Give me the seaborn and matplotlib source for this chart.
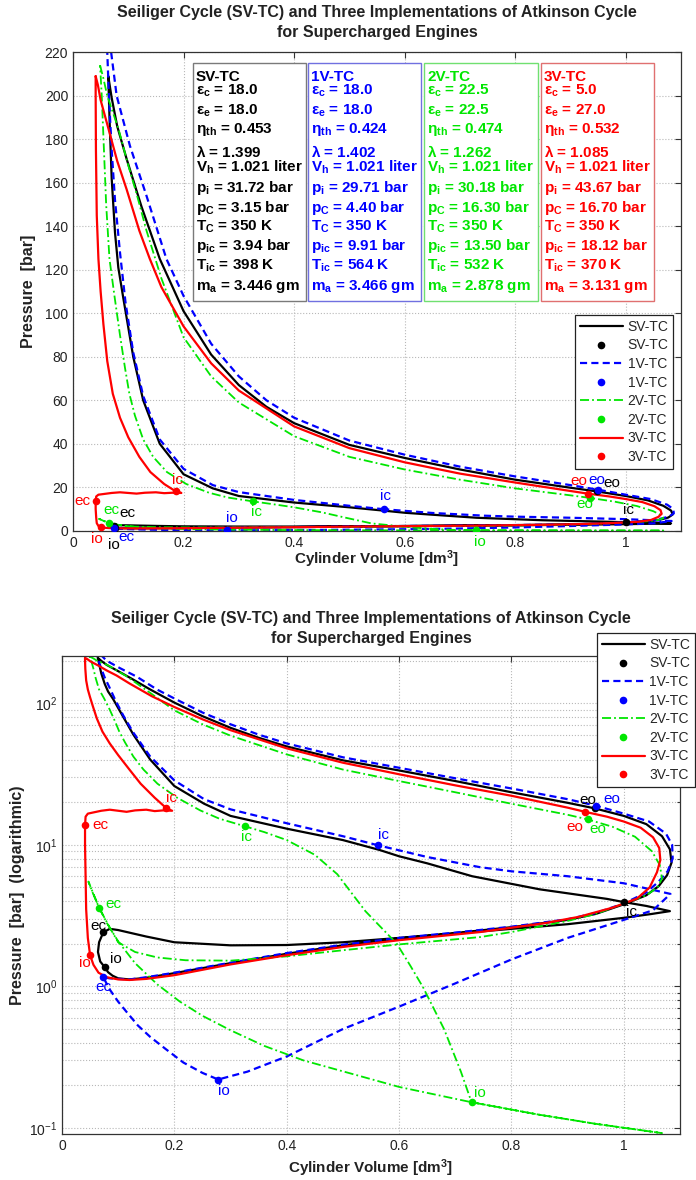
import matplotlib
matplotlib.use("Agg")
import matplotlib.pyplot as plt
import seaborn as sns
import pandas as pd
from matplotlib.lines import Line2D
from matplotlib.patches import Rectangle
from matplotlib.ticker import LogLocator, NullFormatter

# ---------------- data (V in dm^3, p in bar) ----------------
cycle_names = ['SV-TC', '1V-TC', '2V-TC', '3V-TC']

sv_cycle = [(0.0638,209),(0.070,199),(0.080,186),(0.097,171),(0.124,149),(0.157,125),(0.20,101),(0.25,81),
            (0.30,67),(0.35,57),(0.40,49.5),(0.50,39.5),(0.60,33.5),(0.70,28.2),(0.80,23.5),(0.90,19.8),
            (0.948,18.1),(1.00,16.0),(1.04,14.0),(1.068,11.5),(1.082,9.3),(1.085,7.5),(1.077,6.1),(1.062,5.1),
            (1.04,4.4),(1.00,3.8),(0.95,3.25),(0.90,2.95),(0.80,2.62),(0.70,2.38),(0.60,2.18),(0.50,1.95),
            (0.40,1.70),(0.30,1.46),(0.20,1.24),(0.15,1.15),(0.12,1.12),(0.10,1.14),(0.09,1.19),(0.082,1.26),
            (0.0765,1.36),(0.068,1.50),(0.064,1.75),(0.066,2.05),(0.0735,2.41),(0.085,2.55),(0.10,2.50),
            (0.15,2.25),(0.20,2.05),(0.30,1.95),(0.40,1.96),(0.50,2.05),(0.60,2.20),(0.70,2.36),(0.80,2.55),
            (0.90,2.75),(1.00,3.05),(1.05,3.25),(1.082,3.40),(1.04,3.70),(1.00,3.94),(0.97,4.15),(0.85,4.85),
            (0.73,6.0),(0.65,7.4),(0.60,8.3),(0.565,9.2),(0.50,10.8),(0.40,13.0),(0.30,16.0),(0.253,19.5),
            (0.20,26.0),(0.157,40.0),(0.127,60.0),(0.109,80.0),(0.091,107),(0.082,121),(0.076,137),(0.070,162),
            (0.066,190),(0.0638,209)]

v1_cycle = [(0.563,9.91),(0.50,11.5),(0.40,14.2),(0.30,17.8),(0.253,21.0),(0.20,28.5),(0.157,42),(0.127,62),
            (0.109,82),(0.095,105),(0.085,128),(0.076,152),(0.070,175),(0.065,200),(0.062,220),(0.062,235),
            (0.068,222),(0.079,200),(0.103,177),(0.133,154),(0.169,125),(0.20,108),(0.25,86),(0.30,71),
            (0.35,60),(0.40,52),(0.50,41.5),(0.60,35),(0.70,29.5),(0.80,25),(0.90,21),(0.95,18.9),(1.00,16.6),
            (1.045,14.6),(1.075,12.0),(1.086,10.0),(1.087,8.0),(1.078,6.5),(1.062,5.5),(1.04,4.6),(1.00,3.85),
            (0.95,3.3),(0.90,2.98),(0.80,2.64),(0.70,2.40),(0.60,2.20),(0.50,1.97),(0.40,1.72),(0.30,1.47),
            (0.20,1.25),(0.15,1.16),(0.12,1.12),(0.10,1.13),(0.085,1.14),(0.0735,1.16),(0.085,0.95),(0.10,0.78),
            (0.115,0.66),(0.135,0.53),(0.157,0.44),(0.185,0.36),(0.216,0.29),(0.25,0.245),(0.278,0.22),
            (0.33,0.25),(0.40,0.32),(0.45,0.40),(0.50,0.50),(0.60,0.72),(0.70,1.05),(0.80,1.55),(0.90,2.20),
            (1.00,2.95),(1.052,3.45),(1.083,4.5),(1.00,5.35),(0.90,6.0),(0.80,6.5),(0.744,6.95),(0.65,8.2),
            (0.563,9.91)]

v2_cycle = [(0.049,214),(0.055,208),(0.062,200),(0.070,194),(0.082,185),(0.10,168),(0.115,155),(0.133,138),
            (0.16,116),(0.20,89),(0.25,71),(0.30,59),(0.40,43.5),(0.50,34),(0.60,28.2),(0.70,23.5),(0.80,19.5),
            (0.90,16.3),(0.936,15.1),(0.98,13.4),(1.02,11.4),(1.05,9.0),(1.064,7.2),(1.068,5.8),(1.06,5.0),
            (1.04,4.4),(1.00,3.85),(0.95,3.25),(0.90,2.90),(0.80,2.42),(0.744,2.23),(0.60,1.98),(0.50,1.80),
            (0.40,1.63),(0.30,1.52),(0.22,1.53),(0.17,1.60),(0.13,1.75),(0.10,2.05),(0.085,2.6),(0.066,3.6),
            (0.055,4.6),(0.047,5.5),(0.055,4.55),(0.066,3.6),(0.08,2.8),(0.10,2.08),(0.13,1.46),(0.17,1.03),
            (0.21,0.78),(0.25,0.62),(0.30,0.49),(0.36,0.38),(0.43,0.30),(0.51,0.245),(0.60,0.195),(0.729,0.152),
            (0.85,0.124),(0.95,0.107),(1.068,0.092),(0.95,0.107),(0.85,0.124),(0.729,0.152),(0.71,0.25),
            (0.68,0.50),(0.643,0.98),(0.62,1.4),(0.596,2.0),(0.54,3.4),(0.49,6.2),(0.45,8.5),(0.40,10.8),
            (0.36,12.3),(0.326,13.5),(0.28,15.3),(0.246,17.5),(0.205,21.5),(0.17,27),(0.145,34),(0.127,42),
            (0.112,53),(0.102,63),(0.094,75),(0.085,90),(0.075,108),(0.066,125),(0.060,150),(0.056,175),
            (0.052,200),(0.049,214)]

v3_cycle = [(0.041,209),(0.045,205),(0.050,198),(0.064,185),(0.080,170),(0.097,157),(0.12,138),(0.139,125),
            (0.16,112),(0.20,94),(0.25,77),(0.30,64.5),(0.40,48),(0.50,38),(0.60,31.5),(0.70,26.3),(0.80,22.2),
            (0.90,18.3),(0.931,17.1),(0.97,15.8),(1.00,14.6),(1.03,13.2),(1.052,11.3),(1.063,9.5),(1.065,7.8),
            (1.059,6.4),(1.046,5.0),(1.023,4.16),(0.98,3.6),(0.92,3.1),(0.86,2.8),(0.744,2.42),(0.60,2.12),
            (0.50,1.90),(0.40,1.66),(0.30,1.43),(0.20,1.20),(0.15,1.13),(0.12,1.11),(0.10,1.12),(0.08,1.16),
            (0.065,1.25),(0.056,1.42),(0.050,1.66),(0.046,2.2),(0.043,3.5),(0.042,6.0),(0.041,10.0),(0.041,13.7),
            (0.042,15.8),(0.046,16.6),(0.055,16.9),(0.070,17.4),(0.085,17.7),(0.10,17.4),(0.115,17.1),(0.13,17.5),
            (0.15,17.7),(0.165,17.3),(0.18,17.5),(0.196,17.4),(0.186,18.1),(0.165,21.5),(0.14,27),(0.12,34),
            (0.10,43),(0.085,52),(0.072,63),(0.062,78),(0.055,95),(0.050,110),(0.046,125),(0.043,145),
            (0.0415,175),(0.041,200),(0.041,209)]

# valve events: (label, V, p)
sv_events = [('eo',0.948,18.1),('ic',1.0,3.94),('ec',0.0735,2.41),('io',0.0765,1.36)]
v1_events = [('eo',0.95,18.9),('ic',0.563,9.91),('ec',0.0735,1.16),('io',0.278,0.22)]
v2_events = [('eo',0.936,15.1),('ic',0.326,13.5),('ec',0.066,3.6),('io',0.729,0.152)]
v3_events = [('eo',0.931,17.1),('ic',0.186,18.1),('ec',0.041,13.7),('io',0.050,1.66)]

# info-box values
eps_c = ['18.0', '18.0', '22.5', '5.0']
eps_e = ['18.0', '18.0', '22.5', '27.0']
eta_th = ['0.453', '0.424', '0.474', '0.532']
lam = ['1.399', '1.402', '1.262', '1.085']
V_h = ['1.021', '1.021', '1.021', '1.021']
p_i = ['31.72', '29.71', '30.18', '43.67']
p_C = ['3.15', '4.40', '16.30', '16.70']
T_C = ['350', '350', '350', '350']
p_ic = ['3.94', '9.91', '13.50', '18.12']
T_ic = ['398', '564', '532', '370']
m_a = ['3.446', '3.466', '2.878', '3.131']

x_ticks = [0, 0.2, 0.4, 0.6, 0.8, 1.0]
x_tick_labels = ['0', '0.2', '0.4', '0.6', '0.8', '1']
y_ticks_lin = list(range(0, 221, 20))

title_lines = ['Seiliger Cycle (SV-TC) and Three Implementations of Atkinson Cycle',
               'for Supercharged Engines']

# ---------------- style ----------------
sns.set_theme(style="white")
plt.rcParams['font.family'] = ['Liberation Sans', 'DejaVu Sans']
plt.rcParams['mathtext.fontset'] = 'custom'
plt.rcParams['mathtext.rm'] = 'Liberation Sans'
plt.rcParams['mathtext.it'] = 'Liberation Sans:italic'
plt.rcParams['mathtext.bf'] = 'Liberation Sans:bold'
plt.rcParams['axes.unicode_minus'] = False

styles = {
    'SV-TC': dict(color='#000000', ls='-', lw=1.6),
    '1V-TC': dict(color='#0000ff', ls=(0, (3.2, 1.9)), lw=1.6),
    '2V-TC': dict(color='#00e600', ls=(0, (5.0, 1.7, 1.0, 1.7)), lw=1.3),
    '3V-TC': dict(color='#ff0000', ls='-', lw=1.6),
}
box_edges = ['#7a7a7a', '#7070e0', '#70e070', '#e07070']

cycles = [('SV-TC', sv_cycle, sv_events), ('1V-TC', v1_cycle, v1_events),
          ('2V-TC', v2_cycle, v2_events), ('3V-TC', v3_cycle, v3_events)]

# label offsets in pixels (dx, dy up) for eo, ic, ec, io
lin_off = {'SV-TC': [(15, 8), (3, 12), (14, 13), (-1, -17)],
           '1V-TC': [(-1, 10), (1, 13), (13, -9), (5, 12)],
           '2V-TC': [(-6, -6), (3, -11), (2, 13), (4, -12)],
           '3V-TC': [(-9, 13), (2, 11), (-13, 0), (-4, -12)]}
log_off = {'SV-TC': [(-7, 8), (8, -10), (-5, 6), (11, 8)],
           '1V-TC': [(16, 7), (5, 10), (0, -10), (6, -11)],
           '2V-TC': [(10, -10), (1, -11), (14, 4), (8, 9)],
           '3V-TC': [(-10, -15), (5, 10), (15, 0), (-5, -8)]}

W, H = 696, 1180
fig = plt.figure(figsize=(W / 100, H / 100), dpi=100)
fig.patch.set_facecolor('white')


def px_axes(l, t, r, b):
    return fig.add_axes([l / W, 1 - b / H, (r - l) / W, (b - t) / H])


ax1 = px_axes(73, 52.3, 681, 530.8)
ax2 = px_axes(62, 656, 680, 1134)
ax2.set_yscale('log')


def draw(ax, offsets):
    for name, pts, ev in cycles:
        st = styles[name]
        df = pd.DataFrame(pts, columns=['V', 'p'])
        sns.lineplot(data=df, x='V', y='p', sort=False, estimator=None, color=st['color'],
                     linestyle=st['ls'], linewidth=st['lw'], ax=ax)
        evdf = pd.DataFrame(ev, columns=['label', 'V', 'p'])
        sns.scatterplot(data=evdf, x='V', y='p', color=st['color'], s=30, linewidth=0,
                        ax=ax, zorder=3, legend=False)
        for (lab, v, p), (dx, dy) in zip(ev, offsets[name]):
            ax.annotate(lab, (v, p), xytext=(dx * 0.72, dy * 0.72), textcoords='offset points',
                        ha='center', va='center', color=st['color'], fontsize=11, zorder=6)


draw(ax1, lin_off)
draw(ax2, log_off)

for ax in (ax1, ax2):
    ax.set_xlim(0, 1.1)
    ax.set_xticks(x_ticks)
    ax.set_xticklabels(x_tick_labels)
    ax.set_xlabel('')
    ax.set_ylabel('')
    for s in ax.spines.values():
        s.set_color('#333333')
        s.set_linewidth(0.9)
    ax.tick_params(which='both', direction='in', top=True, right=True, colors='#333333',
                   labelcolor='#222222', labelsize=10, width=0.8)
    ax.tick_params(which='major', length=4.5)
    ax.tick_params(which='minor', length=2.5)
    ax.grid(True, which='major', linestyle=':', color='#b8b8b8', linewidth=0.8)
    ax.set_axisbelow(True)

ax1.set_ylim(0, 220)
ax1.set_yticks(y_ticks_lin)

ax2.set_ylim(0.0907, 215.5)
ax2.yaxis.set_major_locator(LogLocator(base=10, numticks=10))
ax2.yaxis.set_minor_locator(LogLocator(base=10, subs=range(2, 10), numticks=50))
ax2.yaxis.set_minor_formatter(NullFormatter())
ax2.grid(True, which='minor', axis='y', linestyle=':', color='#b8b8b8', linewidth=0.8)

# info boxes on the top panel
def fy(py):
    return (530.8 - py) / 478.5


def fx(px):
    return (px - 73) / 608.0


box_l = [192.7, 308.3, 424.0, 541.0]
box_r = [306.0, 420.7, 538.3, 654.3]
text_x = [195.5, 311.0, 427.0, 543.5]
row_base = [80.7, 95, 115, 133, 156.7, 171.7, 191.7, 211.7, 231, 250, 270, 290]
for i, name in enumerate(cycle_names):
    col = styles[name]['color']
    ax1.add_patch(Rectangle((fx(box_l[i]), fy(301)), fx(box_r[i]) - fx(box_l[i]), fy(62.7) - fy(301),
                            transform=ax1.transAxes, facecolor='white', edgecolor=box_edges[i],
                            linewidth=1.0, zorder=7))
    rows = [name,
            r'$\mathbf{\varepsilon_{c}}$ = ' + eps_c[i],
            r'$\mathbf{\varepsilon_{e}}$ = ' + eps_e[i],
            r'$\mathbf{\eta_{th}}$ = ' + eta_th[i],
            r'$\mathbf{\lambda}$ = ' + lam[i],
            r'$\mathbf{V_{h}}$ = ' + V_h[i] + ' liter',
            r'$\mathbf{p_{i}}$ = ' + p_i[i] + ' bar',
            r'$\mathbf{p_{C}}$ = ' + p_C[i] + ' bar',
            r'$\mathbf{T_{C}}$ = ' + T_C[i] + ' K',
            r'$\mathbf{p_{ic}}$ = ' + p_ic[i] + ' bar',
            r'$\mathbf{T_{ic}}$ = ' + T_ic[i] + ' K',
            r'$\mathbf{m_{a}}$ = ' + m_a[i] + ' gm']
    for r, yb in zip(rows, row_base):
        ax1.text(fx(text_x[i]), fy(yb), r, transform=ax1.transAxes, ha='left', va='baseline',
                 color=col, fontsize=11, fontweight='bold', zorder=8)

# legends
handles, labels = [], []
for name in cycle_names:
    st = styles[name]
    handles.append(Line2D([], [], color=st['color'], linestyle=st['ls'], linewidth=st['lw']))
    handles.append(Line2D([], [], color=st['color'], linestyle='none', marker='o',
                          markersize=5.5, markeredgewidth=0))
    labels += [name, name]

leg_kw = dict(fontsize=10, frameon=True, fancybox=False, framealpha=1, edgecolor='#222222',
              borderpad=0.35, handlelength=3.1, handletextpad=0.35, labelspacing=0.33,
              borderaxespad=0, bbox_transform=fig.transFigure)
l1 = ax1.legend(handles, labels, loc='upper right', bbox_to_anchor=(673.3 / W, 1 - 315 / H), **leg_kw)
l1.get_frame().set_linewidth(0.9)
l1.set_zorder(10)
l2 = ax2.legend(handles, labels, loc='upper left', bbox_to_anchor=(596.7 / W, 1 - 633 / H), **leg_kw)
l2.get_frame().set_linewidth(0.9)
l2.set_zorder(10)

# titles and axis labels
for (cx, y1, y2) in [(377, 13, 33), (371, 618, 638)]:
    fig.text(cx / W, 1 - y1 / H, title_lines[0], ha='center', va='center', fontsize=11.5,
             fontweight='bold', color='#222222')
    fig.text(cx / W, 1 - y2 / H, title_lines[1], ha='center', va='center', fontsize=11.5,
             fontweight='bold', color='#222222')

xl = r'Cylinder Volume [dm$^{\mathbf{3}}$]'
fig.text(377 / W, 1 - 559 / H, xl, ha='center', va='center', fontsize=11, fontweight='bold', color='#222222')
fig.text(371 / W, 1 - 1168 / H, xl, ha='center', va='center', fontsize=11, fontweight='bold', color='#222222')
fig.text(29 / W, 1 - 291.5 / H, 'Pressure  [bar]', rotation=90, ha='center', va='center',
         fontsize=11.5, fontweight='bold', color='#222222')
fig.text(18 / W, 1 - 895 / H, 'Pressure  [bar]  (logarithmic)', rotation=90, ha='center', va='center',
         fontsize=11.5, fontweight='bold', color='#222222')

fig.savefig('out.png', dpi=100, facecolor='white')
